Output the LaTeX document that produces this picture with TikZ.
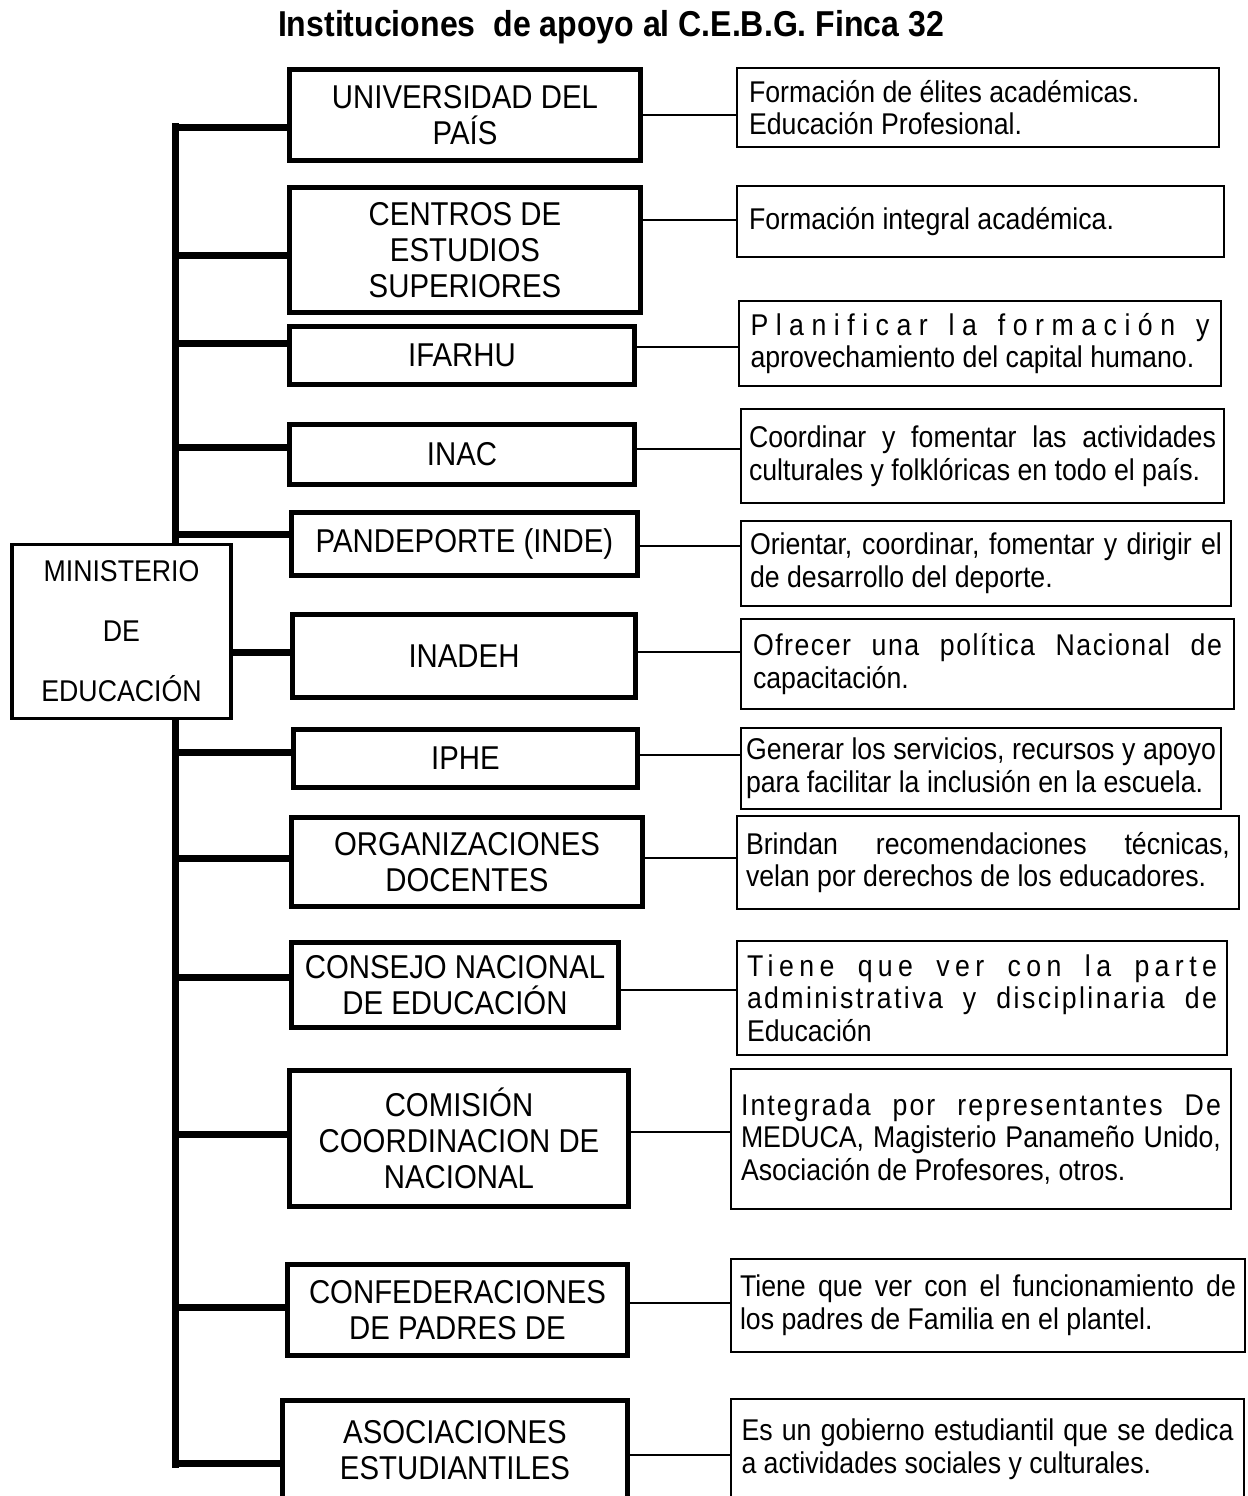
\documentclass[tikz,border=0pt]{standalone}
\usepackage{fontspec}
\setmainfont{Liberation Sans}[FakeStretch=0.89]
\usetikzlibrary{calc}

\newcommand{\jline}[1]{\makebox[\hsize][s]{#1}\\}
\newcommand{\sline}[2]{\makebox[\hsize][s]{\addfontfeatures{LetterSpace=#1}#2}\\}

\begin{document}
\begin{tikzpicture}[x=0.5pt, y=-0.5pt,
  inst/.style={draw, line width=2.5pt, align=center, inner sep=0pt, font=\fontsize{16.5}{18}\selectfont},
  desc/.style={draw, line width=1pt, inner sep=0pt, align=left, font=\fontsize{15}{16.3}\selectfont,
    execute at begin node={\spaceskip=0pt\relax\xspaceskip=0pt\relax\hyphenpenalty=10000\relax}},
  trunk/.style={line width=3.5pt},
  link/.style={line width=0.6pt}]

\path[use as bounding box, clip] (0,0) rectangle (1248,1496);

\node[font=\fontsize{18}{20}\selectfont\bfseries] (T) at (611,27) {Instituciones\ \ de apoyo al C.E.B.G. Finca 32};

% ministerio
\node[draw, line width=1.75pt, align=center, minimum width=109.5pt, minimum height=87pt, font=\fontsize{15}{30}\selectfont] (M) at (121.5,631.5) {MINISTERIO\\DE\\EDUCACIÓN};

% instituciones
\node[inst, minimum width=175.5pt, minimum height=45.5pt] (L1) at (465,115) {UNIVERSIDAD DEL\\PAÍS};
\node[inst, minimum width=175.5pt, minimum height=62.5pt] (L2) at (465,250) {CENTROS DE\\ESTUDIOS\\SUPERIORES};
\node[inst, minimum width=172.5pt, minimum height=29pt] (L3) at (462,355.5) {IFARHU};
\node[inst, minimum width=172.5pt, minimum height=30pt] (L4) at (462,454) {INAC};
\node[inst, minimum width=173pt, minimum height=31.5pt] (L5) at (464.5,544) {PANDEPORTE (INDE)};
\node[inst, minimum width=171.5pt, minimum height=41.5pt] (L6) at (464,656) {INADEH};
\node[inst, minimum width=172pt, minimum height=29pt] (L7) at (465.5,758.5) {IPHE};
\node[inst, minimum width=175.5pt, minimum height=44.5pt] (L8) at (467,862) {ORGANIZACIONES\\DOCENTES};
\node[inst, minimum width=163.5pt, minimum height=42.5pt] (L9) at (455,985) {CONSEJO NACIONAL\\DE EDUCACIÓN};
\node[inst, minimum width=169.5pt, minimum height=68pt] (L10) at (459,1138.5) {COMISIÓN\\COORDINACION DE\\NACIONAL};
\node[inst, minimum width=170pt, minimum height=45.5pt] (L11) at (457.5,1310) {CONFEDERACIONES\\DE PADRES DE};
\node[inst, minimum width=172.5pt, minimum height=50pt] (L12) at (455,1450) {ASOCIACIONES\\ESTUDIANTILES};

% funciones
\node[desc, minimum width=241pt, minimum height=39.5pt, text width=229pt] (R1) at (978,107.5) {Formación de élites académicas.\\Educación Profesional.};
\node[desc, minimum width=243.5pt, minimum height=35.5pt, text width=231.5pt] (R2) at (980.5,221.5) {Formación integral académica.};
\node[desc, minimum width=241pt, minimum height=42.5pt, text width=229.5pt] (R3) at (980,343.5) {\sline{25}{Planificar la formación y}aprovechamiento del capital humano.};
\node[desc, minimum width=241.5pt, minimum height=47pt, text width=233.5pt] (R4) at (982.5,456) {\jline{Coordinar y fomentar las actividades}culturales y folklóricas en todo el país.};
\node[desc, minimum width=245pt, minimum height=42.5pt, text width=236pt] (R5) at (986,563.5) {\jline{Orientar, coordinar, fomentar y dirigir el}de desarrollo del deporte.};
\node[desc, minimum width=246.5pt, minimum height=45pt, text width=234.5pt] (R6) at (987.5,664) {\sline{5}{Ofrecer una política Nacional de}capacitación.};
\node[desc, minimum width=240pt, minimum height=40.5pt, text width=235pt] (R7) at (981,768.5) {\jline{Generar los servicios, recursos y apoyo}para facilitar la inclusión en la escuela.};
\node[desc, minimum width=251pt, minimum height=46.5pt, text width=242pt] (R8) at (988,862.5) {\jline{Brindan recomendaciones técnicas,}velan por derechos de los educadores.};
\node[desc, minimum width=245pt, minimum height=57pt, text width=235pt] (R9) at (982,998) {\sline{18}{Tiene que ver con la parte}\sline{8}{administrativa y disciplinaria de}Educación};
\node[desc, minimum width=250pt, minimum height=70pt, text width=240pt] (R10) at (981,1139) {\sline{7}{Integrada por representantes De}\jline{MEDUCA, Magisterio Panameño Unido,}Asociación de Profesores, otros.};
\node[desc, minimum width=257pt, minimum height=46.5pt, text width=248pt] (R11) at (988,1305.5) {\jline{Tiene que ver con el funcionamiento de}los padres de Familia en el plantel.};
\node[desc, minimum width=256.5pt, minimum height=50pt, text width=246pt] (R12) at (987.5,1449) {\jline{Es un gobierno estudiantil que se dedica}a actividades sociales y culturales.};

% tronco
\coordinate (S0) at (175,123);
\coordinate (S1) at (175,1468);
\draw[trunk] (S0) -- (S0 |- M.north);
\draw[trunk] (M.south -| S1) -- (S1);
\foreach \n/\dy in {L1/12, L2/5, L3/-12.5, L4/-7, L5/-10, L7/-6.5, L8/-4, L9/-8, L10/-4.5, L11/-3, L12/13}
  \draw[trunk] ($(\n.west)+(0,\dy)$) -- ($(\n.west -| S0)+(0,\dy)$);
\draw[trunk] ($(L6.west)+(0,-4)$) -- ($(L6.west -| M.east)+(0,-4)$);

% enlaces
\foreach \a/\b/\dy in {L1/R1/0, L2/R2/-30, L3/R3/-8.5, L4/R4/-5, L5/R5/2, L6/R6/-4, L7/R7/-3.5, L8/R8/-4, L9/R9/5, L10/R10/-6.5, L11/R11/-7, L12/R12/5}
  \draw[link] ($(\a.east)+(0,\dy)$) -- ($(\a.east -| \b.west)+(0,\dy)$);
\end{tikzpicture}
\end{document}
